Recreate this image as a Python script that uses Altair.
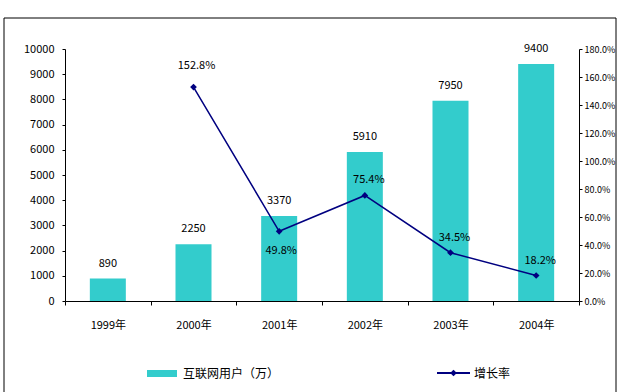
import altair as alt
import pandas as pd

years = ["1999年", "2000年", "2001年", "2002年", "2003年", "2004年"]
users = [890, 2250, 3370, 5910, 7950, 9400]
growth = [None, 152.8, 49.8, 75.4, 34.5, 18.2]
growth_labels = ["", "152.8%", "49.8%", "75.4%", "34.5%", "18.2%"]
legend_names = ["互联网用户（万）", "增长率"]

FONT = "Noto Sans CJK SC"
BAR = "#33CCCC"
LINE = "#000080"

df = pd.DataFrame({"year": years, "users": users, "growth": growth, "glabel": growth_labels})
gdf = df[df["growth"].notna()]

X = alt.X("year:N", sort=years, title=None,
          scale=alt.Scale(paddingInner=0, paddingOuter=0),
          axis=alt.Axis(labelAngle=0, tickBand="extent", tickSize=4, labelPadding=14,
                        labelFont=FONT, labelFontSize=11, labelColor="black",
                        domainColor="black", tickColor="black"))

Yu = alt.Y("users:Q", title=None,
           scale=alt.Scale(domain=[0, 10000], nice=False),
           axis=alt.Axis(values=list(range(0, 10001, 1000)), format="d", grid=False,
                         tickSize=3, labelPadding=8, labelFont=FONT, labelFontSize=11,
                         labelColor="black", domainColor="black", tickColor="black"))

Yg = alt.Y("growth:Q", title=None,
           scale=alt.Scale(domain=[0, 180], nice=False),
           axis=alt.Axis(orient="right", values=list(range(0, 181, 20)),
                         labelExpr="format(datum.value, '.1f') + '%'", grid=False,
                         tickSize=3, labelPadding=2, labelFont=FONT, labelFontSize=9,
                         labelColor="black", domainColor="black", tickColor="black"))

base = alt.Chart(df)
bars = base.mark_bar(color=BAR, size=36).encode(x=X, y=Yu)
bar_text = base.mark_text(baseline="bottom", dy=-10, font=FONT, fontSize=11, color="black").encode(
    x=alt.X("year:N", sort=years), y=Yu, text=alt.Text("users:Q", format="d"))
left = alt.layer(bars, bar_text)

gbase = alt.Chart(gdf)
line = gbase.mark_line(color=LINE, strokeWidth=1.5).encode(x=alt.X("year:N", sort=years), y=Yg)
pts = gbase.mark_point(shape="diamond", filled=True, color=LINE, size=45, opacity=1).encode(
    x=alt.X("year:N", sort=years), y=Yg)
lab_up_big = gbase.transform_filter(alt.datum.year == "2000年").mark_text(
    dy=-21, dx=3, font=FONT, fontSize=11, color="black").encode(
    x=alt.X("year:N", sort=years), y=Yg, text="glabel:N")
lab_down = gbase.transform_filter(alt.datum.year == "2001年").mark_text(
    dy=20, dx=2, font=FONT, fontSize=11, color="black").encode(
    x=alt.X("year:N", sort=years), y=Yg, text="glabel:N")
lab_up = gbase.transform_filter(
    (alt.datum.year != "2000年") & (alt.datum.year != "2001年")).mark_text(
    dy=-15, dx=4, font=FONT, fontSize=11, color="black").encode(
    x=alt.X("year:N", sort=years), y=Yg, text="glabel:N")
right = alt.layer(line, pts, lab_up_big, lab_down, lab_up)

ldf = pd.DataFrame({"name": legend_names})
one = alt.Chart(ldf.head(1))
border = one.mark_rect(fillOpacity=0, stroke="black", strokeWidth=1).encode(
    x=alt.value(-61), x2=alt.value(551), y=alt.value(-31), y2=alt.value(400))
sw = one.mark_rect(color=BAR).encode(
    x=alt.value(82), x2=alt.value(112), y=alt.value(321), y2=alt.value(328))
sw_text = one.mark_text(align="left", baseline="middle", font=FONT, fontSize=12, color="black").encode(
    x=alt.value(118), y=alt.value(325), text="name:N")
two = alt.Chart(ldf.tail(1))
lg_line = two.mark_rule(color=LINE, strokeWidth=2).encode(
    x=alt.value(372), x2=alt.value(405), y=alt.value(324))
lg_pt = two.mark_point(shape="diamond", filled=True, color=LINE, size=45, opacity=1).encode(
    x=alt.value(388.5), y=alt.value(324))
lg_text = two.mark_text(align="left", baseline="middle", font=FONT, fontSize=12, color="black").encode(
    x=alt.value(409), y=alt.value(325), text="name:N")

chart = alt.layer(left, right, border, sw, sw_text, lg_line, lg_pt, lg_text).resolve_scale(
    y="independent").properties(
    width=514, height=252,
    padding={"left": 65, "top": 49, "right": 40, "bottom": 91},
    autosize=alt.AutoSizeParams(type="none"),
    background="white",
).configure_view(stroke=None)

chart.save("out.html", embed_options={"renderer": "svg", "actions": False})
